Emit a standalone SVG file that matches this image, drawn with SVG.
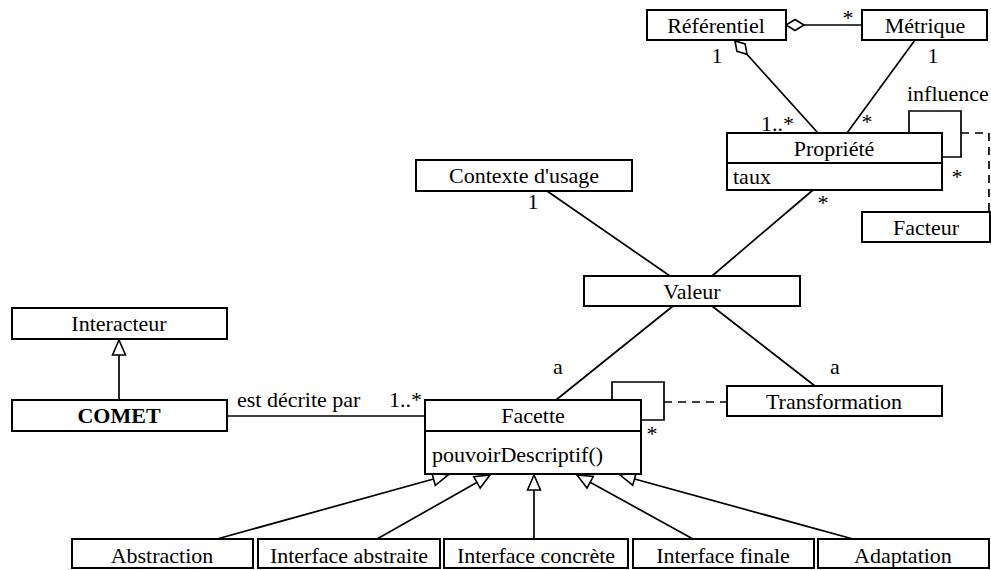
<svg xmlns="http://www.w3.org/2000/svg" width="991" height="570" viewBox="0 0 991 570" font-family="'Liberation Serif', 'Times New Roman', serif" font-size="22">
<defs>
<style>
.box{fill:#fff;stroke:#000;stroke-width:2}
.ln{fill:none;stroke:#000;stroke-width:1.7}
.dash{fill:none;stroke:#000;stroke-width:1.7;stroke-dasharray:8 6}
.t{font-family:'Liberation Serif','Times New Roman',serif;font-size:22px;fill:#000}
.c{text-anchor:middle}
.b{font-weight:bold}
</style>
<marker id="tri" markerUnits="userSpaceOnUse" viewBox="-18 -9 20 18" refX="0" refY="0" markerWidth="20" markerHeight="18" orient="auto">
<path d="M0,0 L-15,-6.5 L-15,6.5 Z" fill="#fff" stroke="#000" stroke-width="1.6"/>
</marker>
<marker id="dia" markerUnits="userSpaceOnUse" viewBox="-21 -8 23 16" refX="0" refY="0" markerWidth="23" markerHeight="16" orient="auto">
<path d="M0,0 L-9,-5.5 L-18,0 L-9,5.5 Z" fill="#fff" stroke="#000" stroke-width="1.6"/>
</marker>
</defs>
<rect width="991" height="570" fill="#fff"/>

<g id="connectors">
<line class="ln" x1="862" y1="25" x2="786" y2="25" marker-end="url(#dia)"/>
<line class="ln" x1="818" y1="133" x2="735" y2="41" marker-end="url(#dia)"/>
<line class="ln" x1="847" y1="133" x2="915" y2="40"/>
<polyline class="ln" points="909,133 909,111 961,111 961,157 942,157"/>
<polyline class="dash" points="961,133 989,133 989,212"/>
<line class="ln" x1="547" y1="191" x2="670" y2="276"/>
<line class="ln" x1="813" y1="190" x2="712" y2="276"/>
<line class="ln" x1="673" y1="306" x2="556" y2="400"/>
<line class="ln" x1="712" y1="306" x2="815" y2="386"/>
<line class="ln" x1="227" y1="416" x2="425" y2="416"/>
<line class="ln" x1="119" y1="400" x2="119" y2="340" marker-end="url(#tri)"/>
<polyline class="ln" points="612,400 612,382 664,382 664,420 641,420"/>
<line class="dash" x1="664" y1="402" x2="727" y2="402"/>
<line class="ln" x1="217" y1="539" x2="448" y2="475" marker-end="url(#tri)"/>
<line class="ln" x1="377" y1="539" x2="490" y2="475" marker-end="url(#tri)"/>
<line class="ln" x1="534" y1="539" x2="534" y2="475" marker-end="url(#tri)"/>
<line class="ln" x1="693" y1="539" x2="577" y2="475" marker-end="url(#tri)"/>
<line class="ln" x1="853" y1="539" x2="620" y2="475" marker-end="url(#tri)"/>
<text class="t c" x="848" y="25">*</text>
<text class="t c" x="717" y="63">1</text>
<text class="t c" x="933" y="63">1</text>
<text class="t" x="761" y="131">1..*</text>
<text class="t c" x="867" y="129">*</text>
<text class="t" x="907" y="101">influence</text>
<text class="t c" x="957" y="184">*</text>
<text class="t c" x="823" y="210">*</text>
<text class="t c" x="533" y="209">1</text>
<text class="t c" x="558" y="374">a</text>
<text class="t c" x="835" y="374">a</text>
<text class="t" x="237" y="407">est décrite par</text>
<text class="t" x="389" y="407">1..*</text>
<text class="t c" x="652" y="441">*</text>
</g>

<g id="referentiel">
<rect class="box" x="647" y="10" width="139" height="30"/>
<text class="t c" x="716" y="33">Référentiel</text>
</g>
<g id="metrique">
<rect class="box" x="862" y="10" width="125" height="30"/>
<text class="t c" x="925" y="33">Métrique</text>
</g>
<g id="propriete">
<rect class="box" x="727" y="133" width="215" height="57"/>
<line x1="727" y1="163" x2="942" y2="163" stroke="#000" stroke-width="2"/>
<text class="t c" x="834" y="156">Propriété</text>
<text class="t" x="733" y="184">taux</text>
</g>
<g id="facteur">
<rect class="box" x="862" y="212" width="128" height="30"/>
<text class="t c" x="926" y="235">Facteur</text>
</g>
<g id="contexte">
<rect class="box" x="416" y="160" width="216" height="31"/>
<text class="t c" x="524" y="183">Contexte d'usage</text>
</g>
<g id="valeur">
<rect class="box" x="584" y="276" width="216" height="30"/>
<text class="t c" x="692" y="299">Valeur</text>
</g>
<g id="interacteur">
<rect class="box" x="12" y="308" width="215" height="31"/>
<text class="t c" x="119" y="331">Interacteur</text>
</g>
<g id="comet">
<rect class="box" x="12" y="400" width="215" height="31"/>
<text class="t c b" x="119" y="423">COMET</text>
</g>
<g id="facette">
<rect class="box" x="425" y="400" width="216" height="74"/>
<line x1="425" y1="431" x2="641" y2="431" stroke="#000" stroke-width="2"/>
<text class="t c" x="533" y="423">Facette</text>
<text class="t" x="432" y="462">pouvoirDescriptif()</text>
</g>
<g id="transformation">
<rect class="box" x="727" y="386" width="215" height="30"/>
<text class="t c" x="834" y="409">Transformation</text>
</g>
<g id="abstraction">
<rect class="box" x="72" y="539" width="181" height="29"/>
<text class="t c" x="162" y="563">Abstraction</text>
</g>
<g id="interface-abstraite">
<rect class="box" x="258" y="539" width="182" height="29"/>
<text class="t c" x="349" y="563">Interface abstraite</text>
</g>
<g id="interface-concrete">
<rect class="box" x="444" y="539" width="184" height="29"/>
<text class="t c" x="536" y="563">Interface concrète</text>
</g>
<g id="interface-finale">
<rect class="box" x="633" y="539" width="181" height="29"/>
<text class="t c" x="723" y="563">Interface finale</text>
</g>
<g id="adaptation">
<rect class="box" x="818" y="539" width="171" height="29"/>
<text class="t c" x="903" y="563">Adaptation</text>
</g>
</svg>
